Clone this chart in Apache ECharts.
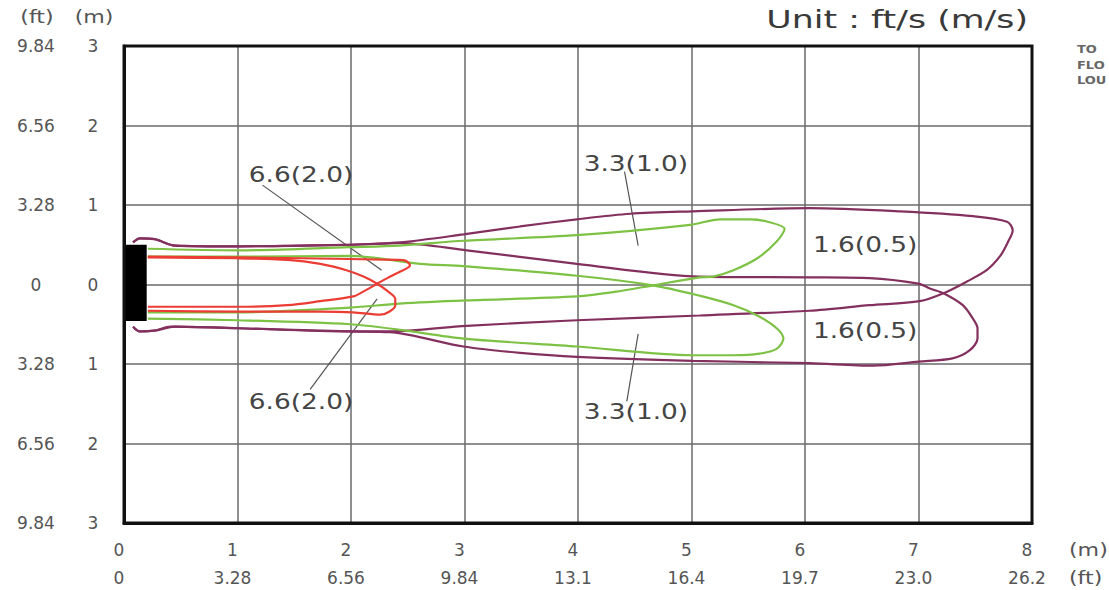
<!DOCTYPE html>
<html>
<head>
<meta charset="utf-8">
<script src="https://cdn.jsdelivr.net/npm/echarts@6/dist/echarts.min.js"></script>
<style>
html,body{margin:0;padding:0;background:#fff;}
#chart{width:1109px;height:590px;}
</style>
</head>
<body>
<div id="chart"></div>
<script>
// ---- tick labels ----
const xMeterLabels = ['0','1','2','3','4','5','6','7','8'];
const xFeetLabels  = ['0','3.28','6.56','9.84','13.1','16.4','19.7','23.0','26.2'];
const yMeterLabels = ['3','2','1','0','1','2','3'];            // bottom -> top
const yFeetLabels  = ['9.84','6.56','3.28','0','3.28','6.56','9.84'];

// ---- contour outlines [x (m), y (m)] ----
const purpleUpperLobe = [[0.08,0.53],[0.14,0.58],[0.27,0.57],[0.45,0.49],[1.0,0.48],[1.55,0.49],[1.99,0.50],[2.43,0.53],[2.99,0.63],[3.49,0.73],[3.99,0.82],[4.46,0.89],[5.01,0.92],[6.04,0.96],[6.84,0.92],[7.48,0.86],[7.78,0.79],[7.83,0.68],[7.79,0.54],[7.72,0.36],[7.60,0.18],[7.43,0.04],[7.22,-0.11],[7.01,-0.21],[6.57,-0.26],[6.04,-0.33],[5.07,-0.39],[3.99,-0.45],[3.02,-0.52],[2.34,-0.59],[1.99,-0.59],[1.0,-0.55],[0.41,-0.53],[0.27,-0.58],[0.14,-0.59],[0.08,-0.53]];
const purpleLowerLobe = [[0.08,-0.53],[0.14,-0.59],[0.27,-0.58],[0.45,-0.53],[1.0,-0.55],[1.99,-0.59],[2.34,-0.60],[2.99,-0.78],[3.49,-0.86],[3.99,-0.91],[5.01,-0.96],[6.04,-0.99],[6.60,-1.02],[7.0,-0.97],[7.30,-0.93],[7.45,-0.83],[7.52,-0.68],[7.52,-0.55],[7.48,-0.43],[7.39,-0.26],[7.22,-0.11],[7.10,-0.05],[7.00,0.01],[6.57,0.08],[6.04,0.09],[5.07,0.10],[3.99,0.26],[3.02,0.43],[2.43,0.52],[1.99,0.50],[1.0,0.48],[0.45,0.49],[0.27,0.57],[0.14,0.58],[0.08,0.53]];
const greenUpperLobe = [[0.21,0.45],[1.0,0.43],[1.99,0.47],[2.43,0.49],[2.99,0.55],[3.99,0.62],[4.99,0.75],[5.25,0.82],[5.52,0.82],[5.67,0.79],[5.82,0.70],[5.75,0.54],[5.58,0.33],[5.37,0.18],[5.19,0.10],[5.07,0.09],[4.66,-0.01],[4.34,-0.09],[3.99,-0.15],[3.02,-0.20],[2.43,-0.24],[1.99,-0.29],[1.0,-0.35],[0.21,-0.35]];
const greenLowerLobe = [[0.21,-0.43],[1.0,-0.45],[1.99,-0.50],[2.43,-0.57],[2.99,-0.68],[3.99,-0.78],[5.01,-0.89],[5.37,-0.89],[5.60,-0.87],[5.75,-0.81],[5.81,-0.68],[5.75,-0.55],[5.58,-0.39],[5.37,-0.26],[5.07,-0.14],[4.66,-0.01],[3.99,0.11],[2.99,0.23],[2.61,0.26],[1.99,0.36],[1.0,0.35],[0.21,0.35]];
const redUpperLobe = [[0.21,0.35],[1.0,0.34],[1.55,0.33],[2.41,0.31],[2.48,0.30],[2.52,0.24],[2.43,0.16],[2.32,0.08],[2.23,0.01],[2.12,-0.08],[2.02,-0.15],[1.73,-0.21],[1.44,-0.26],[1.0,-0.28],[0.21,-0.28]];
const redLowerLobe = [[0.21,-0.33],[1.0,-0.34],[1.73,-0.34],[2.02,-0.35],[2.26,-0.38],[2.34,-0.34],[2.39,-0.26],[2.39,-0.18],[2.32,-0.08],[2.23,0.01],[2.11,0.10],[1.96,0.18],[1.73,0.26],[1.44,0.31],[1.0,0.33],[0.21,0.34]];

// ---- nozzle block [xMin, xMax, yMin, yMax] ----
const nozzleBox = [0, 0.2, -0.46, 0.5];

// ---- annotation leaders and texts ----
const leaderLines = [
  [[1.22,1.25],[2.27,0.18]],
  [[1.64,-1.32],[2.23,-0.18]],
  [[4.41,1.42],[4.53,0.49]],
  [[4.43,-1.47],[4.53,-0.62]]
];
const annotationTexts = ['6.6(2.0)','6.6(2.0)','3.3(1.0)','3.3(1.0)','1.6(0.5)','1.6(0.5)'];
const annotationPos   = [[1.56,1.38],[1.56,-1.47],[4.51,1.52],[4.51,-1.60],[6.53,0.50],[6.53,-0.57]];

const FONT = '"DejaVu Sans", "Liberation Sans", sans-serif';
const PURPLE = '#84305f', GREEN = '#7dc244', RED = '#ec3d35';

const chart = echarts.init(document.getElementById('chart'), null, {renderer:'svg'});

function contour(data, color){
  return {type:'line', data:data, showSymbol:false, smooth:0.3, xAxisIndex:0, yAxisIndex:0,
    lineStyle:{color:color, width:2.2}, silent:true, z:3, animation:false};
}

const series = [
  {type:'line', data:[], xAxisIndex:0, yAxisIndex:0, silent:true,
   markArea:{silent:true, itemStyle:{color:'#000', opacity:1},
     data:[[{coord:[nozzleBox[0], nozzleBox[3]]},{coord:[nozzleBox[1], nozzleBox[2]]}]]}},
  contour(purpleUpperLobe, PURPLE), contour(purpleLowerLobe, PURPLE),
  contour(greenUpperLobe, GREEN), contour(greenLowerLobe, GREEN),
  contour(redUpperLobe, RED), contour(redLowerLobe, RED)
];
leaderLines.forEach(l => series.push({type:'line', data:l, showSymbol:false, silent:true, z:2,
  lineStyle:{color:'#555', width:1.2}, animation:false}));
series.push({type:'custom', silent:true, z:5, animation:false,
  data: annotationPos,
  renderItem:(params, api)=>{
    const p = api.coord([api.value(0), api.value(1)]);
    return {type:'text', x:p[0], y:p[1], scaleX:1.2,
      style:{text:annotationTexts[params.dataIndex], align:'center', verticalAlign:'middle',
        textAlign:'center', textVerticalAlign:'middle',
        font:'22px ' + FONT, fill:'#444'}};
  }});

const axisLabelBase = {fontFamily:FONT, fontSize:17, color:'#555'};

chart.setOption({
  animation:false,
  backgroundColor:'#fff',
  grid:{left:124, right:77, top:46, bottom:67, show:true, borderColor:'#111', borderWidth:3, z:4},
  xAxis:[
    {type:'value', min:0, max:8, interval:1, position:'bottom',
     axisLine:{onZero:false, lineStyle:{color:'#111', width:3}}, axisTick:{show:false},
     splitLine:{lineStyle:{color:'#6a6a6a', width:1.5}},
     axisLabel:Object.assign({}, axisLabelBase, {margin:27, verticalAlign:'middle', padding:[0,10,0,0],
       formatter:(v)=>xMeterLabels[Math.round(v)]})},
    {type:'value', min:0, max:8, interval:1, position:'bottom', offset:0,
     axisLine:{show:false, onZero:false}, axisTick:{show:false}, splitLine:{show:false},
     axisLabel:Object.assign({}, axisLabelBase, {margin:55, verticalAlign:'middle', padding:[0,10,0,0],
       formatter:(v)=>xFeetLabels[Math.round(v)]})}
  ],
  yAxis:[
    {type:'value', min:-3, max:3, interval:1, position:'left',
     axisLine:{show:true, onZero:false, lineStyle:{color:'#111', width:3}}, axisTick:{show:false},
     splitLine:{lineStyle:{color:'#6a6a6a', width:1.5}},
     axisLabel:Object.assign({}, axisLabelBase, {margin:31, align:'center',
       formatter:(v)=>yMeterLabels[Math.round(v)+3]})},
    {type:'value', min:-3, max:3, interval:1, position:'left', offset:0,
     axisLine:{show:false, onZero:false}, axisTick:{show:false}, splitLine:{show:false},
     axisLabel:Object.assign({}, axisLabelBase, {margin:88, align:'center',
       formatter:(v)=>yFeetLabels[Math.round(v)+3]})}
  ],
  graphic:[
    {type:'text', x:1028, y:20, scaleX:1.45, silent:true,
     style:{text:'Unit : ft/s (m/s)', x:0, y:0, align:'right', verticalAlign:'middle', textAlign:'right', textVerticalAlign:'middle',
       font:'24px ' + FONT, fill:'#3a3a3a'}},
    {type:'text', x:37, y:17, scaleX:1.3, silent:true,
     style:{text:'(ft)', align:'center', verticalAlign:'middle', textAlign:'center', textVerticalAlign:'middle', font:'17px ' + FONT, fill:'#555'}},
    {type:'text', x:94, y:17, scaleX:1.3, silent:true,
     style:{text:'(m)', align:'center', verticalAlign:'middle', textAlign:'center', textVerticalAlign:'middle', font:'17px ' + FONT, fill:'#555'}},
    {type:'text', x:1069, y:550, scaleX:1.3, silent:true,
     style:{text:'(m)', align:'left', verticalAlign:'middle', textAlign:'left', textVerticalAlign:'middle', font:'17px ' + FONT, fill:'#555'}},
    {type:'text', x:1069, y:578, scaleX:1.3, silent:true,
     style:{text:'(ft)', align:'left', verticalAlign:'middle', textAlign:'left', textVerticalAlign:'middle', font:'17px ' + FONT, fill:'#555'}},
    {type:'text', x:1077, y:50, scaleX:1.3, silent:true,
     style:{text:'TO', align:'left', verticalAlign:'middle', textAlign:'left', textVerticalAlign:'middle', font:'bold 10px ' + FONT, fill:'#666'}},
    {type:'text', x:1077, y:65.5, scaleX:1.3, silent:true,
     style:{text:'FLO', align:'left', verticalAlign:'middle', textAlign:'left', textVerticalAlign:'middle', font:'bold 10px ' + FONT, fill:'#666'}},
    {type:'text', x:1077, y:81, scaleX:1.3, silent:true,
     style:{text:'LOU', align:'left', verticalAlign:'middle', textAlign:'left', textVerticalAlign:'middle', font:'bold 10px ' + FONT, fill:'#666'}}
  ],
  series:series
});
</script>
</body>
</html>
